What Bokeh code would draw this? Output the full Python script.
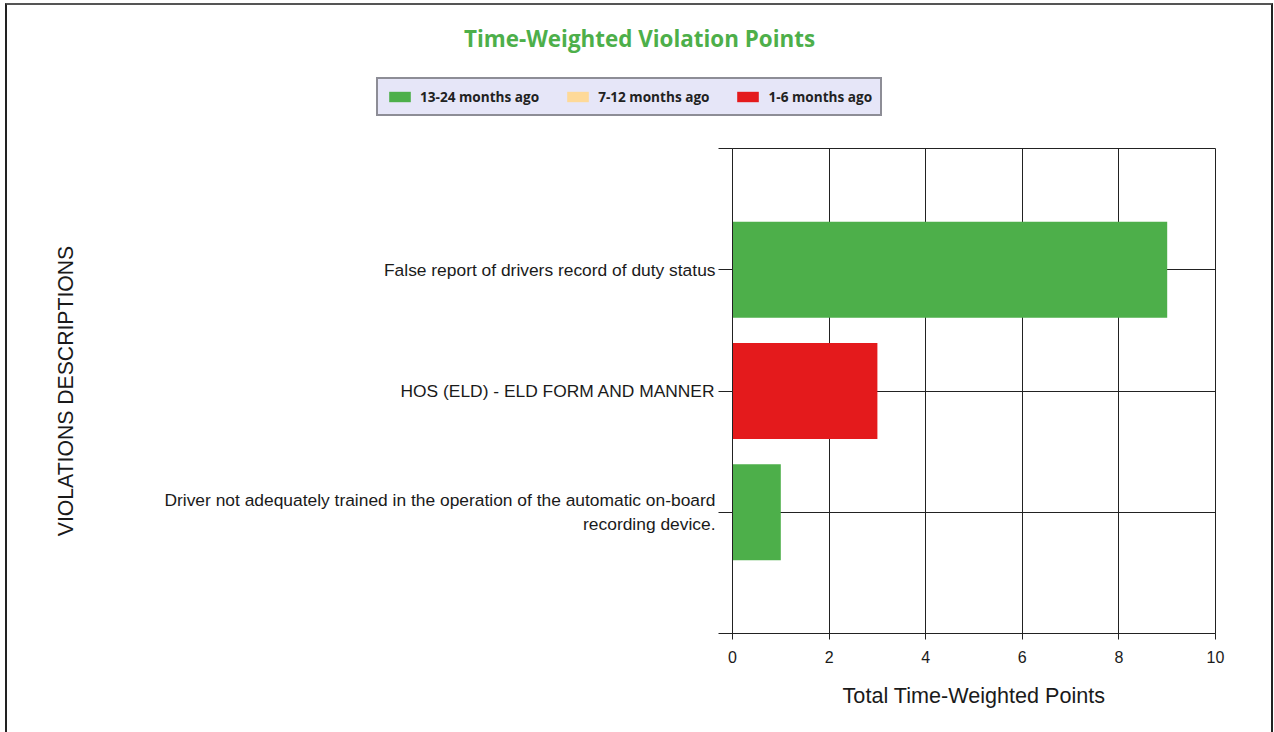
from bokeh.plotting import figure
from bokeh.layouts import column
from bokeh.models import Range1d, FixedTicker, ColumnDataSource
from bokeh.embed import file_html
from bokeh.resources import INLINE

# ---- data ----
categories = [
    "Driver not adequately trained in the operation of the automatic on-board\nrecording device.",
    "HOS (ELD) - ELD FORM AND MANNER",
    "False report of drivers record of duty status",
]
positions = [1, 2, 3]
series_names = ["13-24 months ago", "7-12 months ago", "1-6 months ago"]
months_13_24 = [1, 0, 9]
months_7_12 = [0, 0, 0]
months_1_6 = [0, 3, 0]
x_ticks = [0, 2, 4, 6, 8, 10]
colors = ["#4DAF4A", "#FED998", "#E41A1C"]

FONT = "Liberation Sans"
TXT = "#1a1a1a"

# ---------------- header (title + legend) ----------------
header = figure(
    output_backend="svg", toolbar_location=None,
    x_range=Range1d(0, 1264), y_range=Range1d(0, 100),
    width=1264, height=128, min_border=0,
    x_axis_location=None, y_axis_location=None,
    title="Time-Weighted Violation Points",
)
header.frame_align = False
header.outline_line_color = None
header.grid.visible = False
header.background_fill_color = "white"
header.border_fill_color = "white"
header.title.align = "center"
header.title.text_font = "Open Sans"
header.title.text_font_style = "bold"
header.title.text_font_size = "22.4px"
header.title.text_color = "#4DAF4A"
header.title.standoff = 30

# legend-only renderers (zero-size, outside the visible range)
dummy = ColumnDataSource(dict(y=[-100], l=[0], r=[0]))
for name, col in zip(series_names, colors):
    header.hbar(y="y", left="l", right="r", height=1, source=dummy,
                fill_color=col, line_color=None, legend_label=name)

lg = header.legend[0]
lg.orientation = "horizontal"
lg.location = (369, 17)
lg.background_fill_color = "#E6E6F8"
lg.background_fill_alpha = 1
lg.border_line_color = "#333"
lg.border_line_width = 2
lg.label_text_font = "Open Sans"
lg.label_text_font_style = "bold"
lg.label_text_font_size = "13.6px"
lg.label_text_color = "#222"
lg.glyph_width = 27
lg.glyph_height = 13
lg.label_height = 13
lg.label_standoff = 7
lg.spacing = 25
lg.padding = 8
lg.margin = 0

# ---------------- main chart ----------------
source = ColumnDataSource(dict(
    pos=positions,
    s1=months_13_24,
    s2=months_7_12,
    s3=months_1_6,
))

p = figure(
    output_backend="svg",
    toolbar_location=None,
    x_range=Range1d(0, 10),
    y_range=Range1d(0, 4),
    frame_width=483,
    frame_height=485,
    min_border_left=725,
    min_border_right=56,
    min_border_top=15,
    min_border_bottom=99,
)
p.frame_align = False
p.background_fill_color = "white"
p.border_fill_color = "white"
p.outline_line_color = "#222"
p.outline_line_width = 1

p.hbar_stack(["s1", "s2", "s3"], y="pos", height=0.79, source=source,
             fill_color=colors, line_color=None)

p.xaxis.ticker = FixedTicker(ticks=x_ticks)
p.xaxis.axis_label = "Total Time-Weighted Points"
p.xaxis.axis_label_text_font = FONT
p.xaxis.axis_label_text_font_size = "21.6px"
p.xaxis.axis_label_text_font_style = "normal"
p.xaxis.axis_label_text_color = TXT
p.xaxis.axis_label_standoff = 17
p.xaxis.major_label_text_font = FONT
p.xaxis.major_label_text_font_size = "16px"
p.xaxis.major_label_text_color = TXT
p.xaxis.major_label_standoff = 11
p.xaxis.major_tick_out = 6
p.xaxis.major_tick_in = 0
p.xaxis.minor_tick_line_color = None
p.xaxis.axis_line_color = "#222"
p.xaxis.major_tick_line_color = "#222"

p.yaxis.ticker = FixedTicker(ticks=[0, 1, 2, 3, 4])
overrides = {0: "", 4: ""}
for pos, cat in zip(positions, categories):
    overrides[pos] = cat
p.yaxis.major_label_overrides = overrides
p.yaxis.major_label_text_font = FONT
p.yaxis.major_label_text_font_size = "17.4px"
p.yaxis.major_label_text_color = TXT
p.yaxis.major_label_standoff = 3
p.yaxis.major_tick_out = 14
p.yaxis.major_tick_in = 0
p.yaxis.minor_tick_line_color = None
p.yaxis.axis_line_color = "#222"
p.yaxis.major_tick_line_color = "#222"
p.yaxis.axis_label = "VIOLATIONS DESCRIPTIONS"
p.yaxis.axis_label_text_font = FONT
p.yaxis.axis_label_text_font_size = "21.2px"
p.yaxis.axis_label_text_font_style = "normal"
p.yaxis.axis_label_text_color = TXT
p.yaxis.axis_label_standoff = 84

p.xgrid.grid_line_color = "#222"
p.xgrid.grid_line_width = 1
p.xgrid.ticker = FixedTicker(ticks=x_ticks)
p.ygrid.grid_line_color = "#222"
p.ygrid.grid_line_width = 1
p.ygrid.ticker = FixedTicker(ticks=[0, 1, 2, 3, 4])

layout = column(header, p, spacing=0,
                styles={
                    "transform": "translate(5px, 3px)",
                    "border-left": "2px solid #222",
                    "border-top": "2px solid #555",
                    "border-right": "2px solid #222",
                })

open("out.html", "w").write(file_html(layout, INLINE))
